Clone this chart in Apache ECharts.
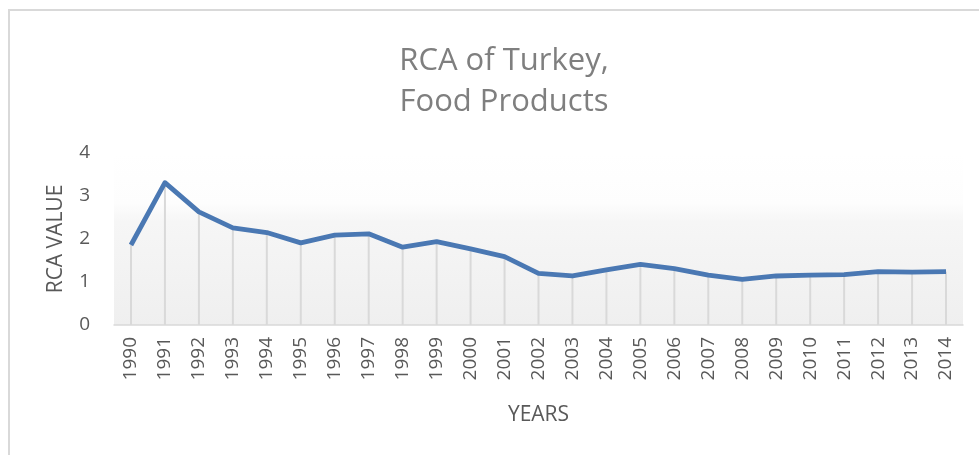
<!DOCTYPE html>
<html>
<head>
<meta charset="utf-8">
<script src="https://cdn.jsdelivr.net/npm/echarts@6/dist/echarts.min.js"></script>
<style>
html,body{margin:0;padding:0;background:#fff;}
#wrap{position:absolute;left:8px;top:9px;right:-2px;bottom:-2px;border:2px solid #d9d9d9;}
#chart{position:absolute;left:0;top:0;width:979px;height:455px;}
</style>
</head>
<body>
<div id="wrap"></div>
<div id="chart"></div>
<script>
const years = ['1990','1991','1992','1993','1994','1995','1996','1997','1998','1999','2000','2001','2002','2003','2004','2005','2006','2007','2008','2009','2010','2011','2012','2013','2014'];
const rcaValues = [1.86,3.31,2.63,2.26,2.15,1.91,2.09,2.12,1.81,1.94,1.77,1.59,1.20,1.14,1.28,1.41,1.31,1.16,1.06,1.14,1.16,1.17,1.24,1.23,1.24];
const titleText = 'RCA of Turkey,\nFood Products';
const yAxisTitle = 'RCA VALUE';
const xAxisTitle = 'YEARS';

const FONT = 'Open Sans';
const chart = echarts.init(document.getElementById('chart'), null, {renderer:'canvas'});
chart.setOption({
  backgroundColor: 'transparent',
  animation: false,
  textStyle: {fontFamily: FONT},
  title: {
    text: titleText,
    left: 499,
    textAlign: 'center',
    top: 36,
    textStyle: {fontFamily: FONT, fontSize: 31, fontWeight: 'normal', color: '#7f7f7f', lineHeight: 41}
  },
  grid: {
    left: 114, right: 16, top: 153, bottom: 130,
    show: true, borderWidth: 0,
    backgroundColor: new echarts.graphic.LinearGradient(0,0,0,1,[
      {offset:0, color:'#ffffff'},
      {offset:0.29, color:'#fdfdfd'},
      {offset:0.4, color:'#f6f6f6'},
      {offset:1, color:'#efefef'}
    ])
  },
  xAxis: {
    type: 'category',
    data: years,
    boundaryGap: true,
    name: xAxisTitle,
    nameLocation: 'middle',
    nameGap: 80,
    nameTextStyle: {fontFamily: FONT, fontSize: 21, color: '#595959'},
    axisLine: {lineStyle: {color: '#d9d9d9', width: 1.5}},
    axisTick: {show: false},
    axisLabel: {rotate: 90, margin: 12, fontFamily: FONT, fontSize: 19, color: '#595959'},
    splitLine: {show: false}
  },
  yAxis: {
    type: 'value',
    min: 0, max: 4, interval: 1,
    name: yAxisTitle,
    nameLocation: 'middle',
    nameGap: 47,
    nameTextStyle: {fontFamily: FONT, fontSize: 21, color: '#595959'},
    axisLine: {show: false},
    axisTick: {show: false},
    axisLabel: {margin: 24, fontFamily: FONT, fontSize: 19, color: '#595959'},
    splitLine: {show: false}
  },
  series: [
    {
      type: 'bar',
      data: rcaValues,
      barWidth: 2,
      itemStyle: {color: '#d9d9d9'},
      silent: true,
      z: 1
    },
    {
      type: 'line',
      data: rcaValues,
      showSymbol: false,
      symbol: 'none',
      lineStyle: {color: '#4a78b3', width: 4.8, join: 'round'},
      z: 3
    }
  ]
});
</script>
</body>
</html>
